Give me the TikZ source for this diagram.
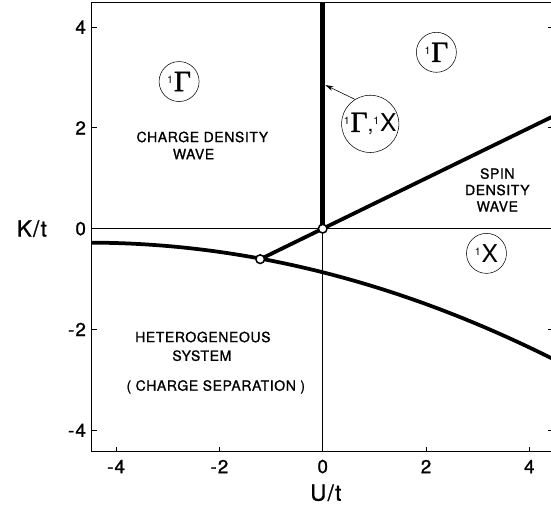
\documentclass[tikz,border=0pt]{standalone}
\usepackage{fontspec}
\usetikzlibrary{arrows.meta}
\newfontfamily\lab[LetterSpace=4,FakeBold=1]{TeX Gyre Heros}
\newfontfamily\labn[LetterSpace=6,FakeBold=1]{TeX Gyre Heros}
\newfontfamily\labp{TeX Gyre Heros}
\newfontfamily\gfont[FakeBold=1.5]{Liberation Serif}
\newcommand\myone{\raisebox{0.62em}{\labp\fontsize{9}{9}\selectfont 1}\kern0.8pt}
\newcommand\myG{{\gfont\fontsize{25}{25}\selectfont Γ}}
\newcommand\myX{{\labp\fontsize{21}{21}\selectfont X}}
\newcommand\mycomma{{\labp\fontsize{18}{18}\selectfont ,}}
\begin{document}
\begin{tikzpicture}[x=1.55cm,y=1.512cm,
  thinline/.style={line width=0.75pt},
  phase/.style={line width=3.2pt},
  crit/.style={circle,draw,fill=white,line width=1.3pt,inner sep=0pt,minimum size=0.26cm},
  sym/.style={circle,draw,line width=0.45pt,inner sep=0pt,minimum size=1.2cm},
  region/.style={font=\lab\fontsize{12}{14}\selectfont,align=center,inner sep=0pt},
  ticklab/.style={font=\labn\fontsize{16}{16}\selectfont,inner sep=0pt},
  axlab/.style={font=\labn\fontsize{19}{19}\selectfont,inner sep=0pt},
]
\useasboundingbox (-6.247,-5.522) rectangle (4.419,4.538);
% frame
\draw[thinline] (-4.47,-4.43) rectangle (4.47,4.48);
\foreach \x in {-4,-2,0,2,4} {
  \draw[thinline] (\x,-4.43) -- ++(0,0.1);
  \node[ticklab] (xl\x) at (\x,-4.72) {\x};
}
\foreach \y in {-4,-2,0,2,4} {
  \draw[thinline] (-4.47,\y) -- ++(0.1,0);
  \draw[thinline] (4.47,\y) -- ++(-0.1,0);
  \node[ticklab,anchor=east] (yl\y) at (-4.58,\y) {\y};
}
\node[axlab] (klab) at (-5.63,0) {K/t};
\node[axlab] (ulab) at (0.06,-5.24) {U/t};
% thin axes
\coordinate (O) at (0,0);
\coordinate (T) at (-1.21,-0.605);
\coordinate (L) at (-4.47,0);
\coordinate (R) at (4.47,0);
\coordinate (B) at (0,-4.43);
\coordinate (Top) at (0,4.48);
\coordinate (RE) at (4.47,2.235);
\draw[thinline] (L) -- (R);
\draw[thinline] (B) -- (O);
% phase boundaries
\draw[line width=4pt] (O) -- (Top);
\draw[phase] (T) -- (O) -- (RE);
\draw[phase] plot[domain=-4.47:4.47,samples=60,smooth] (\x,{-0.865-0.259*\x-0.0285*\x*\x});
\node[crit] (tc) at (T) {};
\node[crit] (oc) at (O) {};
% symmetry labels
\node[sym] (c1) at (-2.78,2.92) {\myone\myG};
\node[sym] (c2) at (2.20,3.50) {\myone\myG};
\node[sym,minimum size=1.56cm] (c3) at (0.92,2.08) {\myone\myG\mycomma\myone\myX};
\node[sym] (c4) at (3.17,-0.49) {\myone\myX};
\coordinate (tip) at (0.05,2.85);
\draw[line width=0.5pt,-{Stealth[length=7pt,width=4pt]}] (c3.122) -- (tip);
% region labels
\node[region] (cdw1) at (-2.33,1.82) {CHARGE DENSITY};
\node[region] (cdw2) at (-2.50,1.48) {WAVE};
\node[region] (sdw) at (3.38,0.77) {SPIN\\DENSITY\\WAVE};
\node[region] (het1) at (-2.32,-2.15) {HETEROGENEOUS};
\node[region] (het2) at (-2.34,-2.52) {SYSTEM};
\node[region] (het3) at (-2.07,-3.14) {( CHARGE SEPARATION )};
\end{tikzpicture}
\end{document}
